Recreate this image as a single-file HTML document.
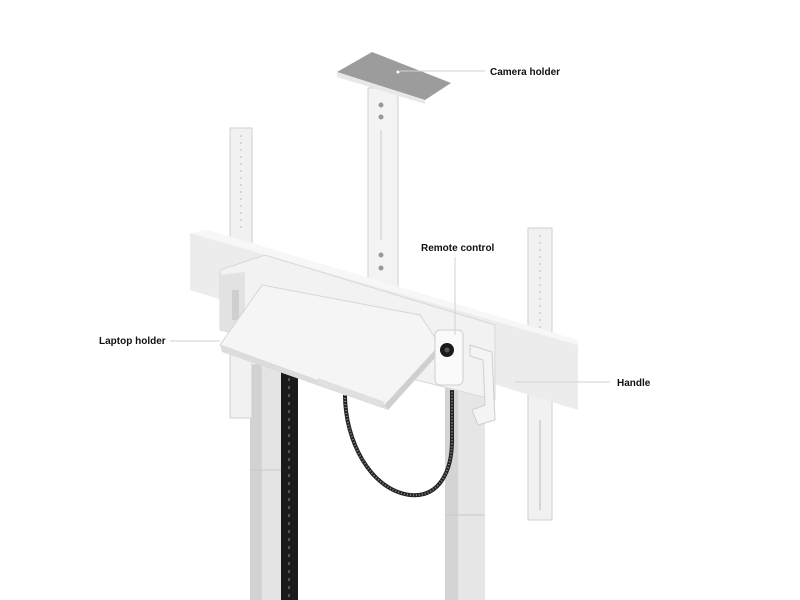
<!DOCTYPE html>
<html><head><meta charset="utf-8"><style>
html,body{margin:0;padding:0;background:#fff;width:800px;height:600px;overflow:hidden}
text{font-family:"Liberation Sans",sans-serif;font-weight:bold;font-size:10px;fill:#111}
</style></head><body>
<svg width="800" height="600" viewBox="0 0 800 600" xmlns="http://www.w3.org/2000/svg">
<!-- legs -->
<polygon points="250,365 290,370 290,600 250,600" fill="#e4e4e4"/>
<polygon points="250,365 262,362 262,600 250,600" fill="#d2d2d2"/>
<line x1="250" y1="470" x2="290" y2="470" stroke="#c8c8c8"/>
<polygon points="445,385 485,388 485,600 445,600" fill="#e6e6e6"/>
<polygon points="445,385 458,382 458,600 445,600" fill="#d4d4d4"/>
<line x1="445" y1="515" x2="485" y2="515" stroke="#c8c8c8"/>
<!-- cable chain -->
<rect x="281" y="368" width="17" height="232" fill="#1a1a1a"/>
<line x1="289" y1="370" x2="289" y2="600" stroke="#555" stroke-width="2" stroke-dasharray="3 5"/>
<!-- coiled cable -->
<path d="M345,395 C345,440 370,490 410,495 C440,498 452,470 452,440 L452,390" fill="none" stroke="#222" stroke-width="4"/>
<path d="M345,395 C345,440 370,490 410,495 C440,498 452,470 452,440 L452,390" fill="none" stroke="#888" stroke-width="2" stroke-dasharray="1 2"/>
<!-- left rail -->
<rect x="230" y="128" width="22" height="290" fill="#f1f1f1" stroke="#cfcfcf"/>
<line x1="241" y1="135" x2="241" y2="230" stroke="#bbb" stroke-dasharray="2 5"/>
<!-- right rail -->
<rect x="528" y="228" width="24" height="292" fill="#f1f1f1" stroke="#cfcfcf"/>
<line x1="540" y1="235" x2="540" y2="330" stroke="#bbb" stroke-dasharray="2 5"/>
<line x1="540" y1="420" x2="540" y2="510" stroke="#bbb"/>
<!-- camera column -->
<rect x="368" y="88" width="30" height="205" fill="#f3f3f3" stroke="#d0d0d0"/>
<circle cx="381" cy="105" r="2.5" fill="#999"/><circle cx="381" cy="117" r="2.5" fill="#999"/>
<circle cx="381" cy="255" r="2.5" fill="#999"/><circle cx="381" cy="268" r="2.5" fill="#999"/>
<line x1="381" y1="130" x2="381" y2="240" stroke="#ccc"/>
<!-- camera plate -->
<polygon points="337,72 372,52 451,83 425,100" fill="#9c9c9c"/>
<polygon points="337,72 425,100 425,104 337,77" fill="#e8e8e8"/>
<circle cx="398" cy="72" r="1.5" fill="#fff"/>
<!-- main beam -->
<polygon points="190,233 578,345 578,410 190,290" fill="#ececec"/>
<polygon points="190,233 208,230 578,340 578,345" fill="#f7f7f7"/>
<!-- central housing -->
<polygon points="220,270 265,255 495,325 495,400 220,330" fill="#f2f2f2" stroke="#d8d8d8"/>
<polygon points="220,275 245,272 245,335 220,330" fill="#e2e2e2"/>
<rect x="232" y="290" width="7" height="30" fill="#cfcfcf"/>
<!-- laptop tray -->
<polygon points="262,285 420,315 440,345 385,405 220,345" fill="#f5f5f5" stroke="#d6d6d6"/>
<polygon points="220,345 385,405 388,410 222,352" fill="#dcdcdc"/>
<polygon points="385,405 440,345 442,350 388,410" fill="#cfcfcf"/>
<polygon points="318,378 385,402 380,406 318,384" fill="#e0e0e0"/>
<!-- remote -->
<rect x="435" y="330" width="28" height="55" rx="5" fill="#fafafa" stroke="#cfcfcf"/>
<circle cx="447" cy="350" r="7" fill="#1a1a1a"/><circle cx="447" cy="350" r="2.5" fill="#555"/>
<!-- handle -->
<path d="M470,345 L492,352 L495,420 L478,425 L472,410 L485,405 L483,360 L470,356 Z" fill="#f4f4f4" stroke="#cfcfcf"/>
<!-- leader lines -->
<g stroke="#c9d3dc" stroke-width="1">
<line x1="400" y1="71" x2="485" y2="71"/>
<line x1="455" y1="257" x2="455" y2="335"/>
<line x1="170" y1="341" x2="220" y2="341"/>
<line x1="515" y1="382" x2="610" y2="382"/>
</g>
<text x="490" y="75">Camera holder</text>
<text x="421" y="251">Remote control</text>
<text x="99" y="344">Laptop holder</text>
<text x="617" y="386">Handle</text>
</svg>
</body></html>
